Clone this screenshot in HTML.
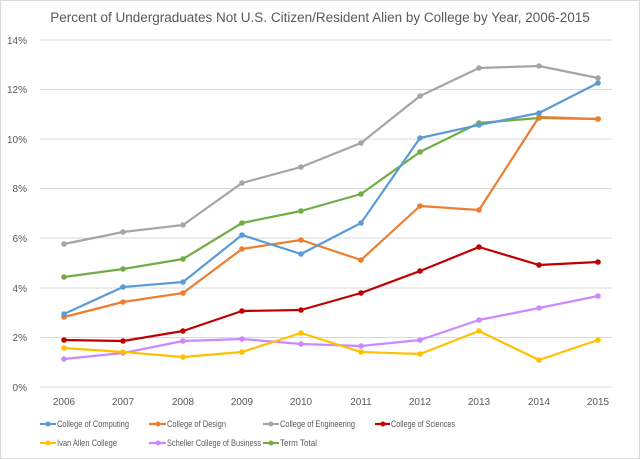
<!DOCTYPE html>
<html><head><meta charset="utf-8"><style>
html,body{margin:0;padding:0;background:#fff;}
svg{display:block;font-family:"Liberation Sans",sans-serif;}
</style></head><body>
<svg width="640" height="459" viewBox="0 0 640 459">
<rect x="0.5" y="0.5" width="639" height="458" fill="#fff" stroke="#d9d9d9"/>
<text x="320" y="22" text-anchor="middle" font-size="13.5" fill="#595959">Percent of Undergraduates Not U.S. Citizen/Resident Alien by College by Year, 2006-2015</text>
<g stroke="#d9d9d9" stroke-width="1">
<line x1="40" x2="612" y1="40" y2="40"/><line x1="40" x2="612" y1="89.5" y2="89.5"/>
<line x1="40" x2="612" y1="139" y2="139"/><line x1="40" x2="612" y1="188.5" y2="188.5"/>
<line x1="40" x2="612" y1="238" y2="238"/><line x1="40" x2="612" y1="288" y2="288"/>
<line x1="40" x2="612" y1="337.5" y2="337.5"/><line x1="40" x2="612" y1="387" y2="387"/>
</g>
<g font-size="10" fill="#595959" text-anchor="end">
<text x="27" y="44">14%</text><text x="27" y="93">12%</text><text x="27" y="143">10%</text>
<text x="27" y="192">8%</text><text x="27" y="242">6%</text><text x="27" y="292">4%</text>
<text x="27" y="341">2%</text><text x="27" y="391">0%</text>
</g>
<g font-size="10" fill="#595959" text-anchor="middle">
<text x="64" y="405">2006</text><text x="123" y="405">2007</text><text x="183" y="405">2008</text>
<text x="242" y="405">2009</text><text x="301" y="405">2010</text><text x="361" y="405">2011</text>
<text x="420" y="405">2012</text><text x="479" y="405">2013</text><text x="539" y="405">2014</text>
<text x="598" y="405">2015</text>
</g>
<g fill="none" stroke-width="2.2" stroke-linejoin="round">
<polyline stroke="#A5A5A5" points="64,244 123,232 183,225 242,183 301,167 361,143 420,96 479,68 539,66 598,78"/>
<polyline stroke="#70AD47" points="64,277 123,269 183,259 242,223 301,211 361,194 420,152 479,123 539,118 598,119"/>
<polyline stroke="#ED7D31" points="64,317 123,302 183,293 242,249 301,240 361,260 420,206 479,210 539,117 598,119"/>
<polyline stroke="#5B9BD5" points="64,314 123,287 183,282 242,235 301,254 361,223 420,138 479,125 539,113 598,83"/>
<polyline stroke="#C00000" points="64,340 123,341 183,331 242,311 301,310 361,293 420,271 479,247 539,265 598,262"/>
<polyline stroke="#CC88FF" points="64,359 123,353 183,341 242,339 301,344 361,346 420,340 479,320 539,308 598,296"/>
<polyline stroke="#FFC000" points="64,348 123,352 183,357 242,352 301,333 361,352 420,354 479,331 539,360 598,340"/>
</g>
<g>
<g fill="#A5A5A5"><circle cx="64" cy="244" r="2.8"/><circle cx="123" cy="232" r="2.8"/><circle cx="183" cy="225" r="2.8"/><circle cx="242" cy="183" r="2.8"/><circle cx="301" cy="167" r="2.8"/><circle cx="361" cy="143" r="2.8"/><circle cx="420" cy="96" r="2.8"/><circle cx="479" cy="68" r="2.8"/><circle cx="539" cy="66" r="2.8"/><circle cx="598" cy="78" r="2.8"/></g>
<g fill="#70AD47"><circle cx="64" cy="277" r="2.8"/><circle cx="123" cy="269" r="2.8"/><circle cx="183" cy="259" r="2.8"/><circle cx="242" cy="223" r="2.8"/><circle cx="301" cy="211" r="2.8"/><circle cx="361" cy="194" r="2.8"/><circle cx="420" cy="152" r="2.8"/><circle cx="479" cy="123" r="2.8"/><circle cx="539" cy="118" r="2.8"/><circle cx="598" cy="119" r="2.8"/></g>
<g fill="#ED7D31"><circle cx="64" cy="317" r="2.8"/><circle cx="123" cy="302" r="2.8"/><circle cx="183" cy="293" r="2.8"/><circle cx="242" cy="249" r="2.8"/><circle cx="301" cy="240" r="2.8"/><circle cx="361" cy="260" r="2.8"/><circle cx="420" cy="206" r="2.8"/><circle cx="479" cy="210" r="2.8"/><circle cx="539" cy="117" r="2.8"/><circle cx="598" cy="119" r="2.8"/></g>
<g fill="#5B9BD5"><circle cx="64" cy="314" r="2.8"/><circle cx="123" cy="287" r="2.8"/><circle cx="183" cy="282" r="2.8"/><circle cx="242" cy="235" r="2.8"/><circle cx="301" cy="254" r="2.8"/><circle cx="361" cy="223" r="2.8"/><circle cx="420" cy="138" r="2.8"/><circle cx="479" cy="125" r="2.8"/><circle cx="539" cy="113" r="2.8"/><circle cx="598" cy="83" r="2.8"/></g>
<g fill="#C00000"><circle cx="64" cy="340" r="2.8"/><circle cx="123" cy="341" r="2.8"/><circle cx="183" cy="331" r="2.8"/><circle cx="242" cy="311" r="2.8"/><circle cx="301" cy="310" r="2.8"/><circle cx="361" cy="293" r="2.8"/><circle cx="420" cy="271" r="2.8"/><circle cx="479" cy="247" r="2.8"/><circle cx="539" cy="265" r="2.8"/><circle cx="598" cy="262" r="2.8"/></g>
<g fill="#CC88FF"><circle cx="64" cy="359" r="2.8"/><circle cx="123" cy="353" r="2.8"/><circle cx="183" cy="341" r="2.8"/><circle cx="242" cy="339" r="2.8"/><circle cx="301" cy="344" r="2.8"/><circle cx="361" cy="346" r="2.8"/><circle cx="420" cy="340" r="2.8"/><circle cx="479" cy="320" r="2.8"/><circle cx="539" cy="308" r="2.8"/><circle cx="598" cy="296" r="2.8"/></g>
<g fill="#FFC000"><circle cx="64" cy="348" r="2.8"/><circle cx="123" cy="352" r="2.8"/><circle cx="183" cy="357" r="2.8"/><circle cx="242" cy="352" r="2.8"/><circle cx="301" cy="333" r="2.8"/><circle cx="361" cy="352" r="2.8"/><circle cx="420" cy="354" r="2.8"/><circle cx="479" cy="331" r="2.8"/><circle cx="539" cy="360" r="2.8"/><circle cx="598" cy="340" r="2.8"/></g>
</g>
<g font-size="9" fill="#595959" stroke-width="2.2">
<line x1="40" x2="56" y1="424" y2="424" stroke="#5B9BD5"/><circle cx="48" cy="424" r="2.5" fill="#5B9BD5"/><text x="57" y="427" textLength="72" lengthAdjust="spacingAndGlyphs">College of Computing</text>
<line x1="149" x2="166" y1="424" y2="424" stroke="#ED7D31"/><circle cx="158" cy="424" r="2.5" fill="#ED7D31"/><text x="167" y="427" textLength="59" lengthAdjust="spacingAndGlyphs">College of Design</text>
<line x1="263" x2="279" y1="424" y2="424" stroke="#A5A5A5"/><circle cx="271" cy="424" r="2.5" fill="#A5A5A5"/><text x="280" y="427" textLength="75" lengthAdjust="spacingAndGlyphs">College of Engineering</text>
<line x1="375" x2="390" y1="424" y2="424" stroke="#C00000"/><circle cx="383" cy="424" r="2.5" fill="#C00000"/><text x="391" y="427" textLength="64" lengthAdjust="spacingAndGlyphs">College of Sciences</text>
<line x1="40" x2="56" y1="443" y2="443" stroke="#FFC000"/><circle cx="48" cy="443" r="2.5" fill="#FFC000"/><text x="57" y="446" textLength="60" lengthAdjust="spacingAndGlyphs">Ivan Allen College</text>
<line x1="149" x2="166" y1="443" y2="443" stroke="#CC88FF"/><circle cx="158" cy="443" r="2.5" fill="#CC88FF"/><text x="167" y="446" textLength="94" lengthAdjust="spacingAndGlyphs">Scheller College of Business</text>
<line x1="263" x2="279" y1="443" y2="443" stroke="#70AD47"/><circle cx="271" cy="443" r="2.5" fill="#70AD47"/><text x="280" y="446" textLength="37" lengthAdjust="spacingAndGlyphs">Term Total</text>
</g>
</svg>
</body></html>
